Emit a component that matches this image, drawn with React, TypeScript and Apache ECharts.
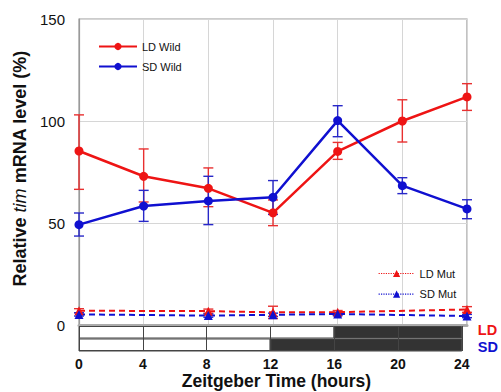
import React, { useEffect, useRef } from "react";
import * as echarts from "echarts";

const hours = [0, 4, 8, 12, 16, 20, 24];
const ldWild = [85.3, 72.9, 67, 55, 85.1, 100, 111.8];
const ldWildLow = [66.5, 60.3, 58, 48.7, 81.2, 89.7, 105.2];
const ldWildHigh = [103, 86.3, 77, 61.3, 89.5, 110.4, 118.3];
const sdWild = [49.2, 58.3, 60.8, 62.6, 100.2, 68.3, 56.9];
const sdWildLow = [43.6, 50.8, 49.2, 54.2, 92.3, 64.4, 52.1];
const sdWildHigh = [54.9, 66, 72.9, 70.8, 107.5, 72.2, 61.4];

const mutHours = [0, 8, 12, 16, 24];
const ldMut = [7, 6.8, 6.2, 6.3, 7.6];
const ldMutLow = [6, 5.8, 3.2, 5.5, 6.2];
const ldMutHigh = [8, 7.8, 9.2, 7.1, 9];
const sdMut = [5.2, 4.6, 5, 5.4, 4.4];
const sdMutLow = [4.4, 3.8, 4.2, 4.6, 3.6];
const sdMutHigh = [6, 5.4, 5.8, 6.2, 5.2];

const photoperiods = ["SD", "LD"];
const lightHours = [12, 16];
const darkHours = [12, 8];

const yTicks = [0, 50, 100, 150];
const xTicks = [0, 4, 8, 12, 16, 20, 24];

const RED = "#ee1414";
const BLUE = "#1010d0";
const FONT = "'Liberation Sans', Arial, sans-serif";

function pairs(xs: number[], ys: number[]) {
  return xs.map((x, i) => [x, ys[i]]);
}
function errs(xs: number[], lo: number[], hi: number[]) {
  return xs.map((x, i) => [x, lo[i], hi[i]]);
}

function errorSeries(data: number[][], color: string, cap: number) {
  return {
    type: "custom",
    xAxisIndex: 0,
    yAxisIndex: 0,
    z: 1,
    silent: true,
    data,
    renderItem: (params: any, api: any) => {
      const x = api.value(0);
      const lo = api.coord([x, api.value(1)]);
      const hi = api.coord([x, api.value(2)]);
      const st = { stroke: color, lineWidth: 1.4 };
      return {
        type: "group",
        children: [
          { type: "line", shape: { x1: lo[0], y1: lo[1], x2: hi[0], y2: hi[1] }, style: st },
          { type: "line", shape: { x1: hi[0] - cap, y1: hi[1], x2: hi[0] + cap, y2: hi[1] }, style: st },
          { type: "line", shape: { x1: lo[0] - cap, y1: lo[1], x2: lo[0] + cap, y2: lo[1] }, style: st },
        ],
      };
    },
  };
}

export default function App() {
  const ref = useRef<HTMLDivElement>(null);
  useEffect(() => {
    document.body.style.margin = "0";
    const chart = echarts.init(ref.current!, null, { renderer: "svg" });
    chart.setOption({
      animation: false,
      backgroundColor: "#fff",
      textStyle: { fontFamily: FONT },
      grid: [
        { left: 79, top: 19, width: 388, height: 306, show: true, borderColor: "#9a9a9a", borderWidth: 1.2 },
        { left: 79, top: 326, width: 388, height: 25, show: true, borderColor: "#444", borderWidth: 1 },
      ],
      legend: [
        {
          data: ["LD Wild", "SD Wild"],
          orient: "vertical",
          left: 93,
          top: 36,
          itemWidth: 38,
          itemHeight: 9,
          itemGap: 9,
          textStyle: { fontSize: 11, color: "#111", fontFamily: FONT },
        },
        {
          data: ["LD Mut", "SD Mut"],
          orient: "vertical",
          left: 373,
          top: 263,
          itemWidth: 36,
          itemHeight: 9,
          itemGap: 9.6,
          lineStyle: { type: "dotted", width: 1.2 },
          textStyle: { fontSize: 11, color: "#111", fontFamily: FONT },
        },
      ],
      xAxis: [
        {
          type: "value",
          gridIndex: 0,
          min: xTicks[0],
          max: xTicks[xTicks.length - 1],
          interval: 4,
          axisLabel: { show: false },
          axisTick: { show: false },
          axisLine: { show: true, lineStyle: { color: "#ababab", width: 3 } },
          splitLine: { show: true, lineStyle: { color: "#d6d6d6", width: 1 } },
        },
        {
          type: "value",
          gridIndex: 1,
          min: xTicks[0],
          max: xTicks[xTicks.length - 1],
          interval: 4,
          z: 10,
          axisLine: { show: false },
          axisTick: { show: false },
          axisLabel: { margin: 6, fontSize: 14, fontWeight: "bold", color: "#111", fontFamily: FONT },
          splitLine: { show: true, lineStyle: { color: "#444", width: 1 } },
          name: "Zeitgeber Time (hours)",
          nameLocation: "middle",
          nameGap: 21,
          nameTextStyle: {
            fontSize: 17.5,
            fontWeight: "bold",
            color: "#111",
            fontFamily: FONT,
            padding: [0, 0, 0, 12],
          },
        },
      ],
      yAxis: [
        {
          type: "value",
          gridIndex: 0,
          min: yTicks[0],
          max: yTicks[yTicks.length - 1],
          interval: 50,
          axisLine: { show: true, lineStyle: { color: "#9a9a9a", width: 1.2 } },
          axisTick: { show: false },
          axisLabel: { margin: 14, fontSize: 15, color: "#111", fontFamily: FONT },
          splitLine: { show: true, lineStyle: { color: "#d6d6d6", width: 1 } },
          name: "{n|Relative }{i|tim}{n| mRNA level (%)}",
          nameLocation: "middle",
          nameGap: 47,
          nameRotate: 90,
          nameTextStyle: {
            padding: [0, 0, 0, 7],
            rich: {
              n: { fontSize: 18, fontWeight: "bold", color: "#111", fontFamily: FONT },
              i: { fontSize: 18, fontStyle: "italic", fontWeight: "normal", color: "#111", fontFamily: FONT },
            },
          },
        },
        {
          type: "category",
          gridIndex: 1,
          data: photoperiods,
          position: "right",
          axisLine: { show: false },
          axisTick: { show: false },
          splitLine: { show: false },
          axisLabel: {
            interval: 0,
            margin: 16,
            formatter: (v: string) => (v === "LD" ? "{r|LD}" : "{b|SD}"),
            rich: {
              r: { color: RED, fontSize: 14.5, lineHeight: 14, fontWeight: "bold", fontFamily: FONT, padding: [0, 0, 4, 0] },
              b: { color: BLUE, fontSize: 14.5, lineHeight: 14, fontWeight: "bold", fontFamily: FONT, padding: [4, 0, 0, 0] },
            },
          },
        },
      ],
      series: [
        {
          name: "light",
          type: "bar",
          xAxisIndex: 1,
          yAxisIndex: 1,
          stack: "pp",
          barWidth: "100%",
          data: lightHours,
          itemStyle: { color: "rgba(255,255,255,0)", borderColor: "#444", borderWidth: 1 },
          silent: true,
        },
        {
          name: "dark",
          type: "bar",
          xAxisIndex: 1,
          yAxisIndex: 1,
          stack: "pp",
          barWidth: "100%",
          data: darkHours,
          itemStyle: { color: "#333", borderColor: "#444", borderWidth: 1 },
          silent: true,
        },
        errorSeries(errs(hours, ldWildLow, ldWildHigh), "#e83030", 5),
        errorSeries(errs(hours, sdWildLow, sdWildHigh), "#2828c8", 5),
        errorSeries(errs(mutHours, ldMutLow, ldMutHigh), "#e83030", 5),
        errorSeries(errs(mutHours, sdMutLow, sdMutHigh), "#2828c8", 5),
        {
          name: "LD Mut",
          type: "line",
          xAxisIndex: 0,
          yAxisIndex: 0,
          z: 3,
          data: pairs(mutHours, ldMut),
          symbol: "triangle",
          symbolSize: 9,
          itemStyle: { color: RED },
          lineStyle: { color: RED, width: 2, type: [6, 4] },
        },
        {
          name: "SD Mut",
          type: "line",
          xAxisIndex: 0,
          yAxisIndex: 0,
          z: 3,
          data: pairs(mutHours, sdMut),
          symbol: "triangle",
          symbolSize: 9,
          itemStyle: { color: BLUE },
          lineStyle: { color: BLUE, width: 2, type: [6, 4] },
        },
        {
          name: "LD Wild",
          type: "line",
          xAxisIndex: 0,
          yAxisIndex: 0,
          z: 3,
          data: pairs(hours, ldWild),
          symbol: "circle",
          symbolSize: 9,
          itemStyle: { color: RED },
          lineStyle: { color: RED, width: 2.5 },
        },
        {
          name: "SD Wild",
          type: "line",
          xAxisIndex: 0,
          yAxisIndex: 0,
          z: 3,
          data: pairs(hours, sdWild),
          symbol: "circle",
          symbolSize: 9,
          itemStyle: { color: BLUE },
          lineStyle: { color: BLUE, width: 2.5 },
        },
      ],
    });
    return () => chart.dispose();
  }, []);
  return <div ref={ref} style={{ width: 501, height: 392 }} />;
}
